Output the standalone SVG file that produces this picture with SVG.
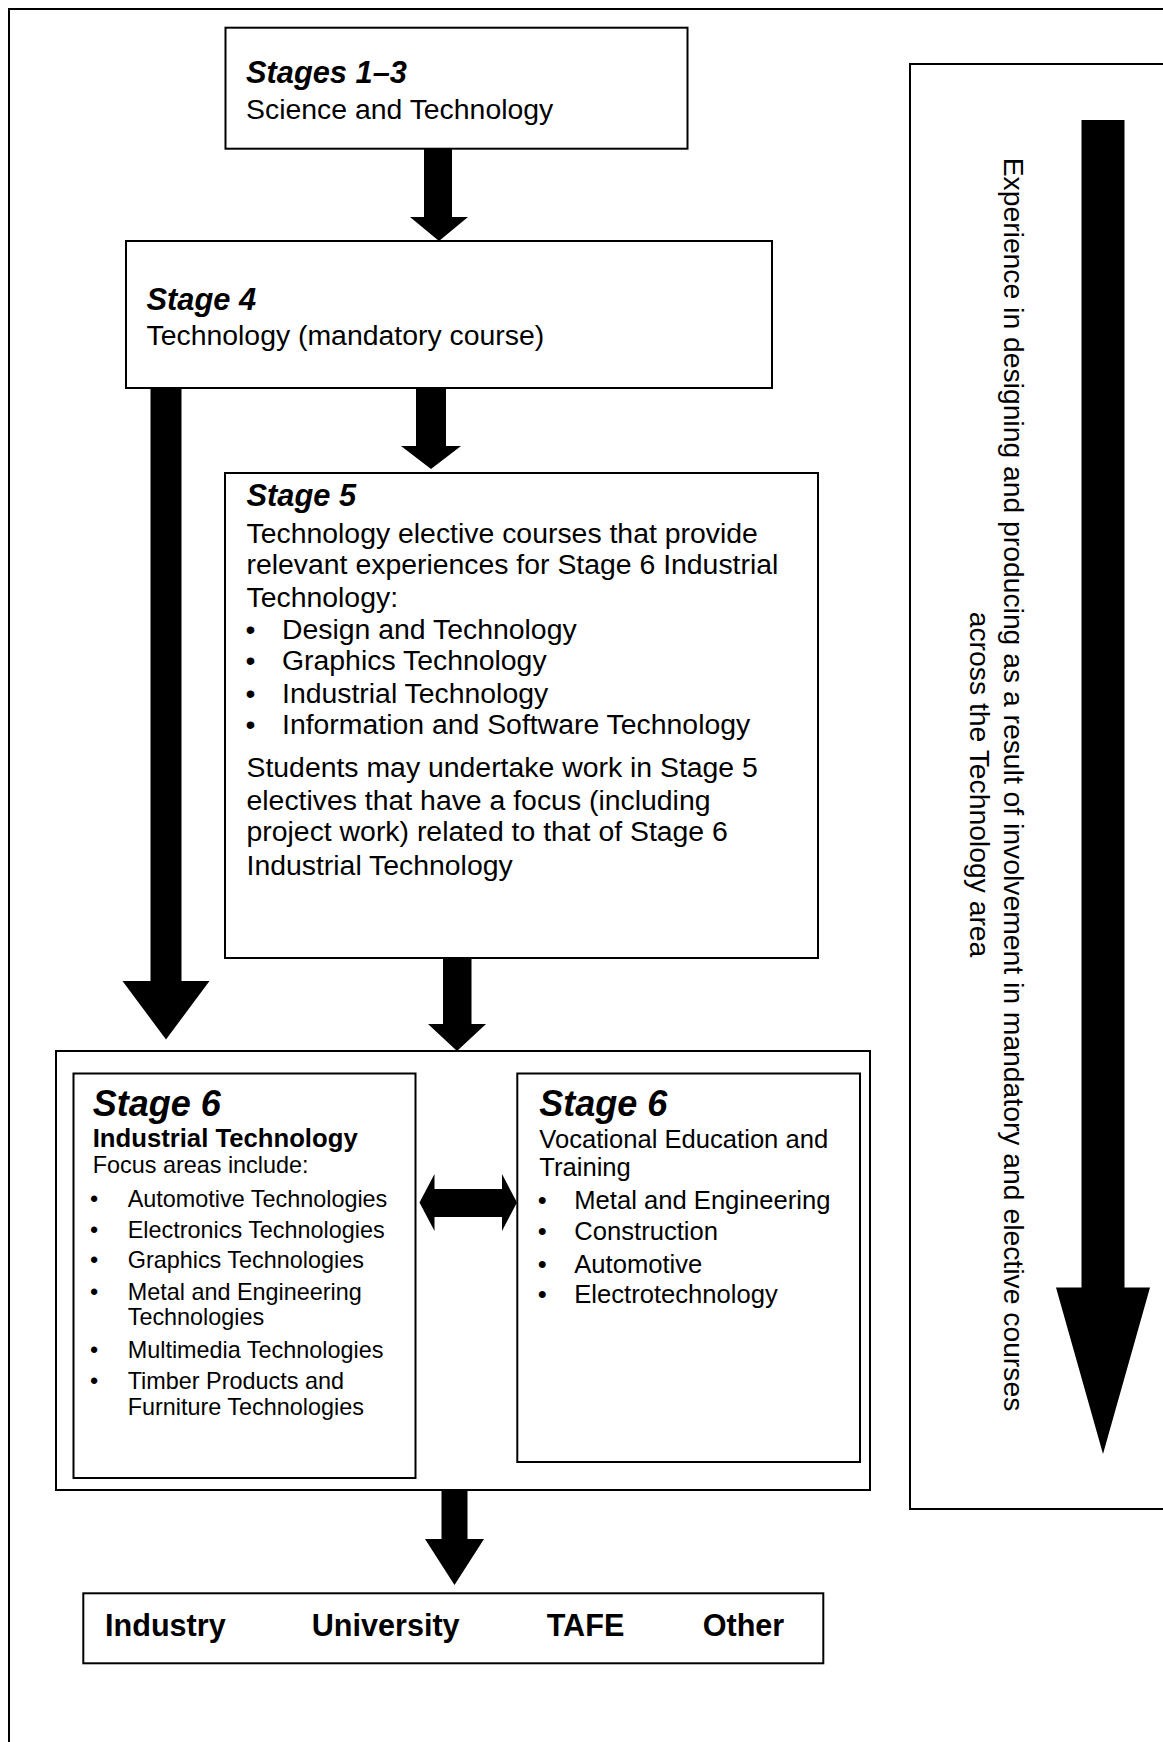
<svg xmlns="http://www.w3.org/2000/svg" width="1163" height="1742" viewBox="0 0 1163 1742">
<style>
text { font-family: "Liberation Sans", Arial, Helvetica, sans-serif; fill: #000; }
.box { fill: #fff; stroke: #000; stroke-width: 2; }
.arr { fill: #000; stroke: none; }
.hd { font-size: 30.8px; font-weight: bold; font-style: italic; }
.hd6 { font-size: 36px; font-weight: bold; font-style: italic; }
.t28 { font-size: 28.4px; }
.tv { font-size: 28.3px; }
.t25 { font-size: 25.6px; }
.t23 { font-size: 23.4px; }
.b25 { font-size: 25.7px; font-weight: bold; }
.b30 { font-size: 30.6px; font-weight: bold; }
</style>
<rect x="0" y="0" width="1163" height="1742" fill="#fff"/>
<rect id="frame" x="9" y="9" width="1200" height="1800" class="box"/>

<g id="stages1-3">
<rect x="225.5" y="27.7" width="462" height="121" class="box"/>
<text class="hd" x="246" y="83">Stages 1–3</text>
<text class="t28" x="246" y="119">Science and Technology</text>
</g>

<g id="stage4">
<rect x="126" y="241" width="646" height="147" class="box"/>
<text class="hd" x="146.5" y="310">Stage 4</text>
<text class="t28" x="146.5" y="345">Technology (mandatory course)</text>
</g>

<g id="stage5">
<rect x="225" y="473" width="593" height="485" class="box"/>
<text class="hd" x="246.5" y="506">Stage 5</text>
<text class="t28" x="246.5" y="542.7">Technology elective courses that provide</text>
<text class="t28" x="246.5" y="573.5">relevant experiences for Stage 6 Industrial</text>
<text class="t28" x="246.5" y="606.5">Technology:</text>
<text class="t28" x="245.5" y="639">•</text><text class="t28" x="282" y="639">Design and Technology</text>
<text class="t28" x="245.5" y="670">•</text><text class="t28" x="282" y="670">Graphics Technology</text>
<text class="t28" x="245.5" y="703">•</text><text class="t28" x="282" y="703">Industrial Technology</text>
<text class="t28" x="245.5" y="734">•</text><text class="t28" x="282" y="734">Information and Software Technology</text>
<text class="t28" x="246.5" y="777">Students may undertake work in Stage 5</text>
<text class="t28" x="246.5" y="810">electives that have a focus (including</text>
<text class="t28" x="246.5" y="841">project work) related to that of Stage 6</text>
<text class="t28" x="246.5" y="875">Industrial Technology</text>
</g>

<g id="stage6">
<rect x="56" y="1051" width="814" height="439" class="box"/>
</g>

<g id="stage6-industrial">
<rect x="73.5" y="1073.5" width="342" height="404.5" class="box"/>
<text class="hd6" x="92.7" y="1116">Stage 6</text>
<text class="b25" x="92.7" y="1147">Industrial Technology</text>
<text class="t23" x="92.7" y="1173">Focus areas include:</text>
<text class="t23" x="90" y="1207">•</text><text class="t23" x="127.7" y="1207">Automotive Technologies</text>
<text class="t23" x="90" y="1237.5">•</text><text class="t23" x="127.7" y="1237.5">Electronics Technologies</text>
<text class="t23" x="90" y="1268">•</text><text class="t23" x="127.7" y="1268">Graphics Technologies</text>
<text class="t23" x="90" y="1300">•</text><text class="t23" x="127.7" y="1300">Metal and Engineering</text>
<text class="t23" x="127.7" y="1325">Technologies</text>
<text class="t23" x="90" y="1358">•</text><text class="t23" x="127.7" y="1358">Multimedia Technologies</text>
<text class="t23" x="90" y="1389">•</text><text class="t23" x="127.7" y="1389">Timber Products and</text>
<text class="t23" x="127.7" y="1415">Furniture Technologies</text>
</g>

<g id="stage6-vet">
<rect x="517.3" y="1073.5" width="342.7" height="388.5" class="box"/>
<text class="hd6" x="539.3" y="1116">Stage 6</text>
<text class="t25" x="539.3" y="1147.5">Vocational Education and</text>
<text class="t25" x="539.3" y="1176">Training</text>
<text class="t25" x="537.8" y="1209">•</text><text class="t25" x="574.3" y="1209">Metal and Engineering</text>
<text class="t25" x="537.8" y="1239.5">•</text><text class="t25" x="574.3" y="1239.5">Construction</text>
<text class="t25" x="537.8" y="1273">•</text><text class="t25" x="574.3" y="1273">Automotive</text>
<text class="t25" x="537.8" y="1303">•</text><text class="t25" x="574.3" y="1303">Electrotechnology</text>
</g>

<g id="destinations">
<rect x="83.3" y="1593.3" width="740" height="70" class="box"/>
<text class="b30" x="105" y="1635.5">Industry</text>
<text class="b30" x="311.7" y="1635.5">University</text>
<text class="b30" x="546.7" y="1635.5">TAFE</text>
<text class="b30" x="702.7" y="1635.5">Other</text>
</g>

<g id="experience">
<rect x="910" y="64" width="300" height="1445" class="box"/>
<text class="tv" text-anchor="middle" transform="translate(1004,784.5) rotate(90)">Experience in designing and producing as a result of involvement in mandatory and elective courses</text>
<text class="tv" text-anchor="middle" transform="translate(970,784.5) rotate(90)">across the Technology area</text>
</g>

<g id="connectors">
<polygon class="arr" points="424,148 452,148 452,217 468,217 439,241 410,217 424,217"/>
<polygon class="arr" points="416,388 446,388 446,446 461,446 431,469 401,446 416,446"/>
<polygon class="arr" points="150.5,388 181.5,388 181.5,981 209.5,981 166,1039.5 122.5,981 150.5,981"/>
<polygon class="arr" points="443,958 471.5,958 471.5,1024 486,1024 457,1051 428,1024 443,1024"/>
<polygon class="arr" points="441.5,1490 467.5,1490 467.5,1539 484,1539 454.5,1585 425,1539 441.5,1539"/>
<polygon class="arr" points="419.5,1202.5 434.5,1174 434.5,1189 502,1189 502,1174 517,1202.5 502,1231 502,1217 434.5,1217 434.5,1231"/>
<polygon class="arr" points="1081.5,120 1124.5,120 1124.5,1287.5 1150,1287.5 1103,1454 1056,1287.5 1081.5,1287.5"/>
</g>
</svg>
